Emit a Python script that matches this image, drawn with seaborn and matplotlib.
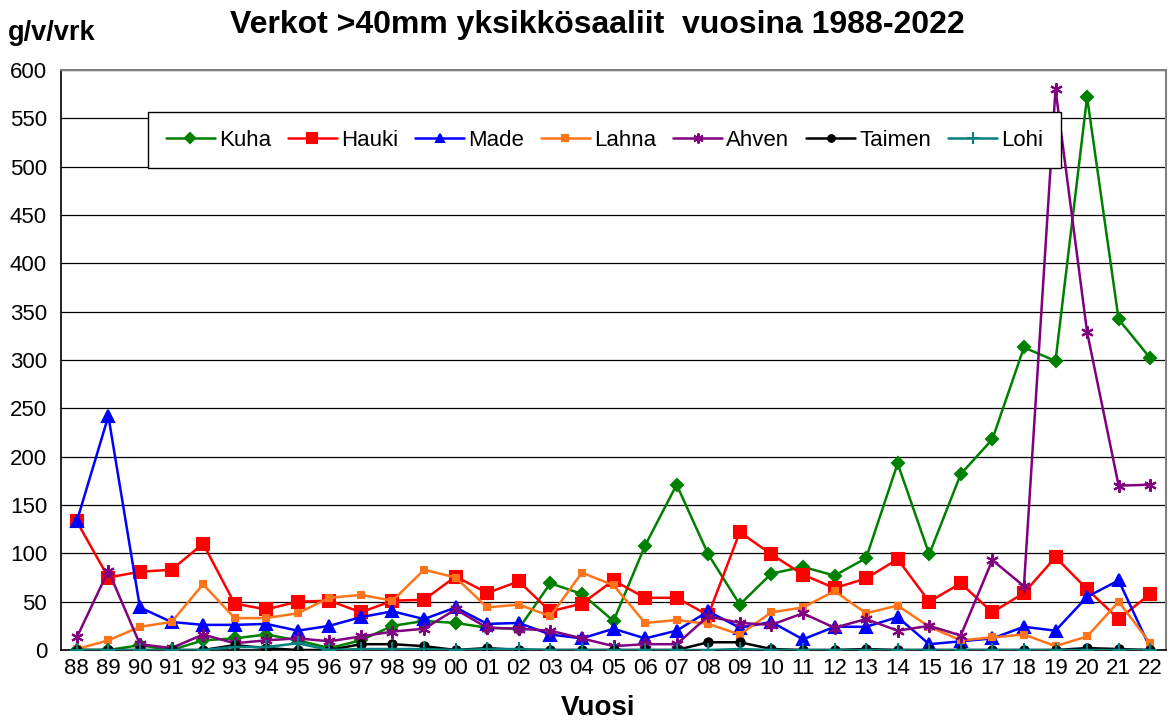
import numpy as np
import pandas as pd
import matplotlib
matplotlib.use("Agg")
import matplotlib.pyplot as plt
import seaborn as sns

# vuodet 1988-2022, näytetään kahdella numerolla
years = ['88', '89', '90', '91', '92', '93', '94', '95', '96', '97', '98', '99',
         '00', '01', '02', '03', '04', '05', '06', '07', '08', '09', '10', '11',
         '12', '13', '14', '15', '16', '17', '18', '19', '20', '21', '22']

kuha = [0, 0, 5, 0, 10, 12, 16, 10, 2, 10, 25, 30, 28, 23, 22, 69, 58, 30,
        108, 171, 99, 47, 79, 86, 77, 95, 193, 99, 182, 218, 313, 299, 572, 342, 302]
hauki = [133, 75, 81, 83, 110, 48, 42, 50, 51, 39, 51, 52, 76, 59, 71, 40, 48, 72,
         54, 54, 36, 122, 99, 78, 64, 74, 94, 50, 69, 39, 59, 96, 63, 32, 58]
made = [133, 242, 44, 29, 26, 26, 27, 20, 25, 34, 40, 32, 44, 27, 28, 16, 12, 22,
        12, 20, 40, 23, 29, 11, 24, 24, 34, 6, 9, 12, 24, 20, 55, 72, 2]
lahna = [1, 10, 24, 29, 68, 33, 33, 38, 54, 57, 51, 83, 75, 44, 47, 35, 80, 67,
         28, 31, 27, 16, 39, 44, 61, 38, 46, 24, 10, 13, 16, 4, 14, 50, 7]
ahven = [13, 82, 6, 2, 16, 7, 10, 12, 9, 14, 19, 22, 42, 23, 22, 20, 12, 4,
         6, 6, 35, 28, 26, 38, 23, 32, 20, 25, 15, 93, 66, 580, 329, 170, 171]
taimen = [0, 0, 0, 0, 0, 5, 2, 0, 0, 6, 6, 4, 0, 2, 0, 0, 0, 0,
          0, 0, 8, 8, 1, 0, 0, 1, 0, 0, 0, 0, 0, 0, 2, 1, 0]
lohi = [0, 0, 0, 0, 0, 3, 3, 7, 0, 1, 1, 1, 0, 1, 1, 0, 0, 0,
        0, 0, 0, 1, 0, 0, 0, 0, 0, 0, 0, 0, 0, 0, 0, 0, 0]

series = [
    ('Kuha', kuha, '#008000', 'D', 6),
    ('Hauki', hauki, '#FF0000', 's', 9),
    ('Made', made, '#0000FF', '^', 8),
    ('Lahna', lahna, '#FF7418', 's', 5),
    ('Ahven', ahven, '#800080', (6, 2, 0), 9),
    ('Taimen', taimen, '#000000', 'o', 6),
    ('Lohi', lohi, '#008080', '+', 10),
]

sns.set_style("white")
plt.rcParams['font.family'] = ['Liberation Sans', 'DejaVu Sans']
plt.rcParams['text.color'] = 'black'
plt.rcParams['xtick.color'] = 'black'
plt.rcParams['ytick.color'] = 'black'

fig = plt.figure(figsize=(11.7, 7.21), dpi=100)
ax = fig.add_axes([61 / 1170, 1 - 650 / 721, 1105 / 1170, 580 / 721])

x = np.arange(len(years))
for name, vals, col, mk, ms in series:
    sns.lineplot(x=x, y=vals, ax=ax, color=col, marker=mk, markersize=ms,
                 markeredgecolor=col, markerfacecolor=col, markeredgewidth=1.5,
                 linewidth=1.8, label=name, zorder=3)

ax.set_xlim(-0.5, len(years) - 0.5)
ax.set_ylim(0, 600)
ax.set_yticks(np.arange(0, 601, 50))
ax.set_xticks(x)
ax.set_xticklabels(years)
ax.set_xticks(np.arange(-0.5, len(years), 1), minor=True)
ax.tick_params(axis='x', which='major', length=0, labelsize=16, pad=6, labelcolor='black')
ax.tick_params(axis='x', which='minor', length=6, width=1, color='black', direction='out')
ax.tick_params(axis='y', which='major', length=6, width=1, color='black', direction='out',
               labelsize=16, pad=4, labelcolor='black')
ax.set_xlabel('')
ax.set_ylabel('')

ax.grid(axis='y', color='black', linewidth=0.9)
ax.grid(axis='x', visible=False)
ax.set_axisbelow(True)
for s in ['top', 'right']:
    ax.spines[s].set_color('#808080')
    ax.spines[s].set_linewidth(1.5)
for s in ['left', 'bottom']:
    ax.spines[s].set_color('black')
    ax.spines[s].set_linewidth(1.2)

leg = ax.legend(loc='center', bbox_to_anchor=(0.492, 0.879), ncol=7, fontsize=16,
                frameon=True, fancybox=False, edgecolor='black', framealpha=1,
                handlelength=2.2, handletextpad=0.2, columnspacing=0.75,
                borderpad=0.8, markerscale=0.8)
leg.get_frame().set_linewidth(1.0)
for t in leg.get_texts():
    t.set_color('black')

fig.text(597 / 1170, 1 - 25 / 721, 'Verkot >40mm yksikkösaaliit  vuosina 1988-2022',
         ha='center', va='center', fontsize=23, fontweight='bold', color='black')
fig.text(8 / 1170, 1 - 33 / 721, 'g/v/vrk', ha='left', va='center',
         fontsize=19.5, fontweight='bold', color='black')
fig.text(598 / 1170, 1 - 708 / 721, 'Vuosi', ha='center', va='center',
         fontsize=20, fontweight='bold', color='black')

fig.savefig('out.png', dpi=100)
